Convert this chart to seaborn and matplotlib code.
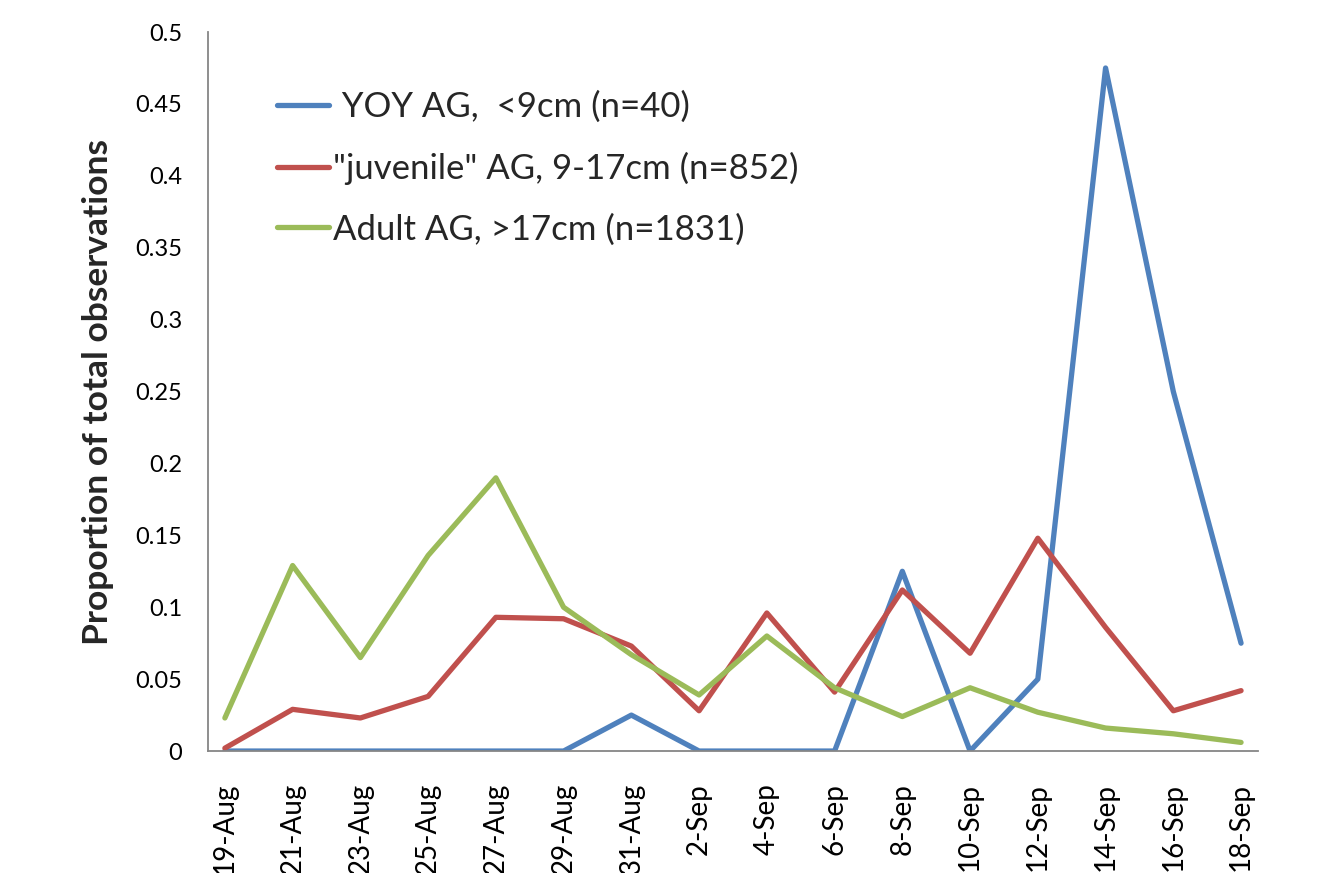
import numpy as np
import pandas as pd
import matplotlib
matplotlib.use("Agg")
import matplotlib.pyplot as plt
import seaborn as sns

dates = ["19-Aug", "21-Aug", "23-Aug", "25-Aug", "27-Aug", "29-Aug", "31-Aug", "2-Sep",
         "4-Sep", "6-Sep", "8-Sep", "10-Sep", "12-Sep", "14-Sep", "16-Sep", "18-Sep"]
yoy = [0, 0, 0, 0, 0, 0, 0.025, 0, 0, 0, 0.125, 0, 0.05, 0.475, 0.25, 0.075]
juvenile = [0.002, 0.029, 0.023, 0.038, 0.093, 0.092, 0.073, 0.028, 0.096, 0.041,
            0.112, 0.068, 0.148, 0.086, 0.028, 0.042]
adult = [0.023, 0.129, 0.065, 0.136, 0.190, 0.100, 0.067, 0.039, 0.080, 0.044,
         0.024, 0.044, 0.027, 0.016, 0.012, 0.006]
series_names = [" YOY AG,  <9cm (n=40)", "\"juvenile\" AG, 9-17cm (n=852)",
                "Adult AG, >17cm (n=1831)"]
ytick_labels = ["0", "0.05", "0.1", "0.15", "0.2", "0.25", "0.3", "0.35", "0.4", "0.45", "0.5"]
colors = ["#4F81BD", "#C0504D", "#9BBB59"]

rows = []
for name, vals in zip(series_names, [yoy, juvenile, adult]):
    for i, v in enumerate(vals):
        rows.append({"idx": i, "value": v, "series": name})
df = pd.DataFrame(rows)

sns.set_theme(style="white")
plt.rcParams['font.family'] = ['Lato', 'DejaVu Sans']

fig = plt.figure(figsize=(13.27, 8.73), dpi=100)
ax = fig.add_axes([0.1567, 0.1397, 0.948 - 0.1567, 0.9633 - 0.1397])

sns.lineplot(data=df, x="idx", y="value", hue="series", hue_order=series_names,
             palette=colors, linewidth=3.8, ax=ax, legend=True, errorbar=None)
for ln in ax.lines:
    ln.set_solid_capstyle("round")
    ln.set_solid_joinstyle("round")

ax.set_xlim(-0.25, 15.25)
ax.set_ylim(0, 0.5)
ax.set_yticks(np.arange(0, 0.501, 0.05))
ax.set_yticklabels(ytick_labels)
ax.set_xticks(np.arange(len(dates)))
ax.set_xticklabels(dates, rotation=90)
ax.set_xticks(np.arange(-0.25, 15.3, 1.0), minor=True)
ax.tick_params(axis="x", which="major", length=0, pad=23, labelsize=20, colors="black")
ax.tick_params(axis="x", which="minor", length=6.5, width=1.3, color="#868686", direction="out")
ax.tick_params(axis="y", which="major", length=6.5, width=1.3, color="#868686", direction="out",
               labelsize=17, pad=12)
ax.tick_params(axis="y", labelcolor="black")

for s in ["top", "right"]:
    ax.spines[s].set_visible(False)
for s in ["left", "bottom"]:
    ax.spines[s].set_color("#868686")
    ax.spines[s].set_linewidth(1.3)

ax.set_xlabel("")
ax.set_ylabel("Proportion of total observations", fontsize=25.5, fontweight="bold", labelpad=15)

leg = ax.legend(loc="upper left", bbox_to_anchor=(0.0657, 0.918), frameon=False, fontsize=25,
                handlelength=1.5, handletextpad=0.12, labelspacing=0.82,
                borderaxespad=0, borderpad=0)
for h in leg.get_lines():
    h.set_linewidth(3.8)
    h.set_solid_capstyle("round")

fig.savefig("out.png", dpi=100)
